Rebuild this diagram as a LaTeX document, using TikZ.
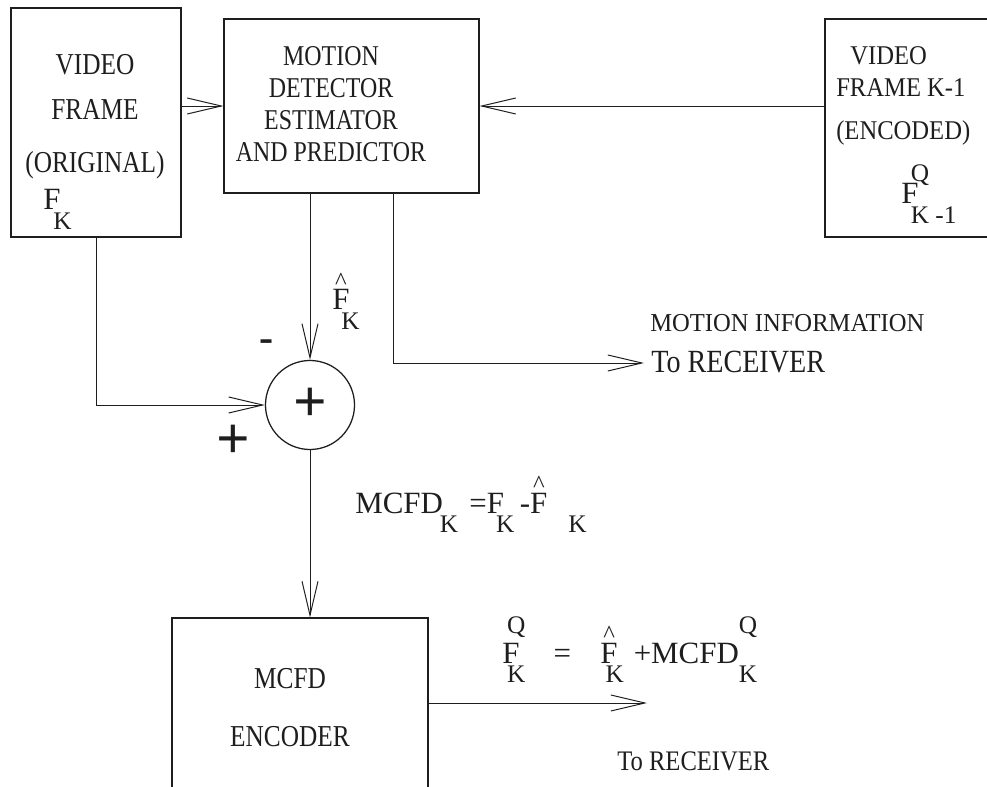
\documentclass[tikz,border=0pt]{standalone}
\usepackage{fontspec}
\setmainfont{Liberation Serif}
\usetikzlibrary{arrows.meta, calc}
\definecolor{ScanBG}{HTML}{FFFFFF}
\definecolor{ScanInk}{HTML}{1E1E1E}
\newcommand{\subfont}{\fontsize{18}{18}\selectfont}
\newcommand{\lowsub}[2][-0.3em]{\kern#1\raisebox{-14pt}{\subfont #2}}
\newcommand{\highsup}[2][21pt]{\rlap{\raisebox{#1}{\subfont #2}}}
\newcommand{\hatted}[1]{\rlap{\kern0.09em\raisebox{0.65em}{\scalebox{0.8}{\textasciicircum}}}#1}
\newcommand{\tall}[2][1.2]{\scalebox{1}[#1]{#2}}
\tikzset{
  mcbox/.style  = {draw=ScanInk, line width=0.8pt, rectangle, inner sep=0pt},
  mcsum/.style  = {draw=ScanInk, line width=0.9pt, circle, inner sep=0pt,
                   minimum size=2.225cm, text=ScanInk,
                   font=\fontsize{42}{42}\selectfont\bfseries},
  mcarr/.style  = {-{Straight Barb[length=8.5mm, width=4mm]}, ScanInk, line width=0.7pt},
  mctext/.style = {inner sep=0pt, text=ScanInk, font=\fontsize{17.5}{22}\selectfont},
  mceq/.style   = {mctext, font=\fontsize{22}{22}\selectfont},
  mcsign/.style = {inner sep=0pt, text=ScanInk, font=\fontsize{42}{42}\selectfont\bfseries},
}

\begin{document}
\begin{tikzpicture}[x=0.025cm, y=-0.025cm]
    \useasboundingbox[fill=ScanBG] (0,0) rectangle (987,787);
    \clip (0,0) rectangle (987,787);
    % blocks
    \node[mcbox, minimum width=4.25cm, minimum height=5.725cm] (vidbox) at (96,122.5) {};
    \node[mcbox, minimum width=6.375cm, minimum height=4.35cm] (motbox) at (351.5,106) {};
    \node[mcbox, minimum width=4.625cm, minimum height=5.45cm] (prevbox) at (917.5,128) {};
    \node[mcbox, minimum width=6.4cm, minimum height=4.55cm] (encbox) at (300,709) {};
    \node[mcsum] (sum) at (310,405) {+};
    % block texts
    \node[mctext, font=\fontsize{18}{32}\selectfont, align=center, anchor=north] (vidtxt) at (95,54) {\tall{VIDEO}\\\tall{FRAME}\\[6pt]\tall{(ORIGINAL)}};
    \node[mceq, anchor=base west] (fklbl) at (43,210) {F\lowsub[-0.23em]{K}};
    \node[mctext, font=\fontsize{17}{22.7}\selectfont, align=center, anchor=north] (mottxt) at (331,46) {\tall{MOTION}\\\tall{DETECTOR}\\\tall{ESTIMATOR}\\\tall{AND PREDICTOR}};
    \node[mctext, font=\fontsize{17.5}{22.7}\selectfont, align=left, anchor=north west] (prevtxt) at (836,46) {\hspace*{10pt}\tall[1.1]{VIDEO}\\\tall[1.1]{FRAME K-1}\\[8pt]\tall[1.1]{(ENCODED)}};
    \node[mceq, anchor=base west] (fqprev) at (901,204) {F\kern-0.25em\highsup[16pt]{Q}\lowsub[0pt]{K -1}};
    \node[mctext, font=\fontsize{18}{41}\selectfont, align=center, anchor=north] (enctxt) at (290,668) {\tall{MCFD}\\\tall{ENCODER}};
    % signal labels
    \node[mceq, anchor=base west] (fhat) at (332,310) {\hatted{F}\lowsub[-0.26em]{K}};
    \node[mcsign, font=\fontsize{30}{30}\selectfont\bfseries] (minus) at (267,346) {-};
    \node[mcsign] (plus) at (233,442) {+};
    \node[mctext, anchor=base west] (minfo) at (650,332) {\tall[1.05]{MOTION INFORMATION}};
    \node[mctext, font=\fontsize{20}{20}\selectfont, anchor=base west] (mrecv) at (651,372) {\tall[1.15]{To RECEIVER}};
    \node[mceq, anchor=base west] (mcfdeq) at (355,513) {MCFD\lowsub[-0.1em]{K}\hspace{8pt}=F\lowsub[-0.26em]{K}\hspace{4pt}-\hatted{F}\lowsub[0.68em]{K}};
    \node[mceq, anchor=base west] (fqeq) at (502,663) {F\kern-0.4em\highsup{Q}\lowsub[0pt]{K}\hspace{20pt}=\hspace{21pt}\hatted{F}\lowsub[-0.39em]{K}\hspace{7pt}+MCFD\highsup{Q}\lowsub[0pt]{K}};
    \node[mctext, anchor=base west] (erecv) at (617,770) {\tall[1.15]{To RECEIVER}};
    \coordinate (infotip) at (644,363);
    \coordinate (enctip) at (647,703);
    % connectors
    \draw[mcarr] (vidbox.east |- motbox.west) -- (motbox.west);
    \draw[mcarr] (prevbox.west |- motbox.east) -- (motbox.east);
    \draw[mcarr] (motbox.south -| sum.north) -- (sum.north);
    \draw[mcarr] (vidbox.south) |- (sum.west);
    \draw[mcarr] ($(motbox.south west)!0.665!(motbox.south east)$) |- (infotip);
    \draw[mcarr] (sum.south) -- (encbox.north -| sum.south);
    \draw[mcarr] (encbox.east |- enctip) -- (enctip);
\end{tikzpicture}
\end{document}
